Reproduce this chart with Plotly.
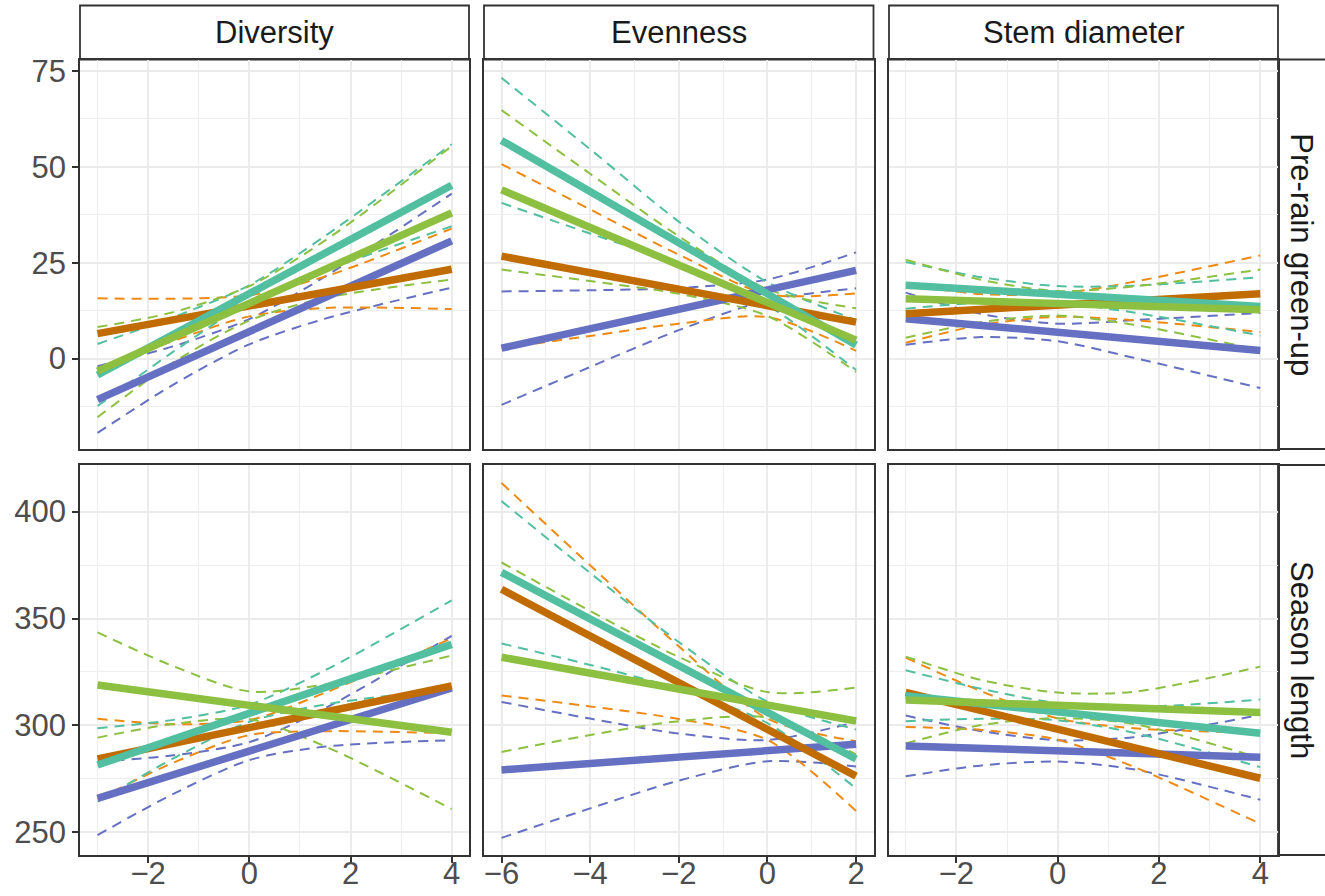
import plotly.graph_objects as go

W, H = 1325, 896

FACETS = ["Diversity", "Evenness", "Stem diameter"]
RESPONSES = ["Pre-rain green-up", "Season length"]
# group order (drawing order): blue, orange, teal, green
SOLID_COLORS = ["#6570C2", "#C06C00", "#52BFA1", "#8DC041"]
DASH_COLORS = ["#6570C2", "#EE8A14", "#52BFA1", "#8DC041"]

X_FIT_DIV = [-3, 4]
X_FIT_EVEN = [-6, 2]
X_FIT_STEM = [-3, 4]
X_BAND_DIV = [-3, -1.5, 0, 1.5, 4]
X_BAND_EVEN = [-6, -4, -2, 0, 2]
X_BAND_STEM = [-3, -1.5, 0, 1.5, 4]

X_TICKS_DIV = [-2, 0, 2, 4]
X_TICKS_EVEN = [-6, -4, -2, 0, 2]
X_TICKS_STEM = [-2, 0, 2, 4]
Y_TICKS_PRE = [0, 25, 50, 75]
Y_TICKS_SEASON = [250, 300, 350, 400]

# ---- Pre-rain green-up ----
PRE_DIV_FIT = [[-10.7, 30.7], [6.5, 23.3], [-4.3, 45.2], [-3.3, 38.0]]
PRE_DIV_HI = [[-2.0, 3.2, 10.3, 21.4, 43.0], [15.7, 15.6, 16.5, 21.4, 33.9],
              [3.8, 10.8, 19.1, 32.0, 55.9], [8.2, 12.1, 18.9, 30.8, 55.4]]
PRE_DIV_LO = [[-19.4, -6.8, 3.7, 10.4, 18.5], [-2.7, 4.6, 11.0, 13.2, 12.9],
              [-12.4, 1.8, 14.7, 23.0, 34.5], [-15.3, -1.0, 9.9, 15.8, 20.6]]

PRE_EVEN_FIT = [[2.7, 23.0], [26.7, 9.5], [56.9, 3.5], [44.0, 4.8]]
PRE_EVEN_HI = [[17.5, 17.8, 18.4, 20.6, 27.7], [50.7, 38.9, 27.1, 16.8, 17.0],
               [73.2, 54.6, 35.7, 19.9, 10.0], [64.8, 48.2, 31.9, 18.1, 13.1]]
PRE_EVEN_LO = [[-12.1, -2.2, 7.4, 15.2, 18.3], [2.7, 5.9, 9.1, 10.8, 2.0],
               [40.6, 32.6, 24.7, 13.9, -3.0], [23.2, 20.2, 16.9, 11.1, -3.5]]

PRE_STEM_FIT = [[10.4, 2.1], [11.7, 16.9], [19.1, 13.6], [15.6, 12.7]]
PRE_STEM_HI = [[17.2, 11.6, 9.1, 10.0, 11.9], [19.3, 16.8, 16.9, 20.0, 26.9],
               [25.2, 21.2, 18.9, 19.0, 21.2], [25.8, 20.5, 17.6, 18.8, 23.2]]
PRE_STEM_LO = [[3.6, 5.6, 4.5, 0.2, -7.7], [4.1, 8.8, 10.9, 10.0, 6.9],
               [13.0, 14.6, 14.5, 12.0, 6.0], [5.4, 9.5, 11.2, 8.8, 2.2]]

# ---- Season length ----
SEA_DIV_FIT = [[265.9, 317.5], [284.3, 318.5], [281.5, 337.9], [318.9, 296.8]]
SEA_DIV_HI = [[283.1, 286.0, 292.2, 308.1, 341.9], [303.1, 300.6, 302.5, 315.3, 340.7],
              [298.7, 302.6, 309.7, 325.8, 358.5], [343.5, 327.7, 315.9, 319.2, 332.7]]
SEA_DIV_LO = [[248.7, 268.0, 283.8, 290.1, 293.1], [265.5, 282.6, 295.5, 297.3, 296.3],
              [264.3, 284.6, 301.7, 309.8, 317.3], [294.3, 300.7, 302.9, 290.2, 260.9]]

SEA_EVEN_FIT = [[279.2, 291.2], [363.7, 276.3], [371.6, 284.3], [331.9, 302.1]]
SEA_EVEN_HI = [[311.0, 303.2, 296.2, 293.2, 301.6], [413.4, 374.9, 337.0, 303.2, 292.6],
               [404.9, 371.3, 339.0, 311.1, 298.1], [376.2, 353.5, 332.0, 315.6, 317.7]]
SEA_EVEN_LO = [[247.4, 261.2, 274.2, 283.2, 280.8], [314.0, 308.9, 303.0, 293.2, 260.0],
               [338.3, 328.3, 317.0, 301.1, 270.5], [287.6, 295.5, 302.0, 303.6, 286.5]]

SEA_STEM_FIT = [[290.4, 285.1], [315.5, 275.3], [313.9, 296.3], [311.9, 306.1]]
SEA_STEM_HI = [[304.6, 297.3, 293.1, 294.5, 305.0], [331.7, 315.9, 303.3, 298.7, 296.6],
               [325.8, 317.1, 310.4, 308.6, 312.1], [332.2, 321.2, 315.4, 315.7, 327.5]]
SEA_STEM_LO = [[276.2, 281.3, 283.1, 279.5, 265.2], [299.3, 297.9, 293.3, 280.7, 254.0],
               [302.0, 303.1, 302.4, 296.6, 280.5], [291.6, 300.2, 303.4, 300.7, 284.7]]

PANELS = [
    (0, 0, X_FIT_DIV, PRE_DIV_FIT, X_BAND_DIV, PRE_DIV_LO, PRE_DIV_HI),
    (0, 1, X_FIT_EVEN, PRE_EVEN_FIT, X_BAND_EVEN, PRE_EVEN_LO, PRE_EVEN_HI),
    (0, 2, X_FIT_STEM, PRE_STEM_FIT, X_BAND_STEM, PRE_STEM_LO, PRE_STEM_HI),
    (1, 0, X_FIT_DIV, SEA_DIV_FIT, X_BAND_DIV, SEA_DIV_LO, SEA_DIV_HI),
    (1, 1, X_FIT_EVEN, SEA_EVEN_FIT, X_BAND_EVEN, SEA_EVEN_LO, SEA_EVEN_HI),
    (1, 2, X_FIT_STEM, SEA_STEM_FIT, X_BAND_STEM, SEA_STEM_LO, SEA_STEM_HI),
]

# layout geometry (target pixels in the picture)
COL_PX = [(80, 469), (484, 873.5), (889, 1278)]
ROW_PX = [(59.5, 449), (465, 855)]
STRIP_TOP_PX = (5.5, 59.5)
STRIP_RIGHT_PX = (1278, 1350)

X_RANGES = [[-3.346, 4.342], [-6.395, 2.393], [-3.33, 4.35]]
Y_RANGES = [[-23.6, 78.0], [239.4, 421.8]]
X_TICKS = [X_TICKS_DIV, X_TICKS_EVEN, X_TICKS_STEM]
Y_TICKS = [Y_TICKS_PRE, Y_TICKS_SEASON]
Y_MINOR = [(12.5, 0), (25, 250)]


def px_x(p):
    return p / W


def px_y(p):
    return 1 - p / H


fig = go.Figure()
layout = dict(
    width=W, height=H, margin=dict(l=0, r=0, t=0, b=0, pad=0),
    paper_bgcolor="white", plot_bgcolor="white", showlegend=False,
    font=dict(family="Liberation Sans, Arial, sans-serif"),
)

AX_COMMON = dict(
    showline=True, mirror=True, linecolor="#333333", linewidth=1.8,
    zeroline=False, showgrid=True, gridcolor="#EBEBEB", gridwidth=1.6,
    tickcolor="#333333", tickwidth=1.6, ticklen=6,
    tickfont=dict(size=31, color="#4D4D4D", family="Liberation Sans, Arial, sans-serif"),
    fixedrange=True, automargin=False,
)

for (r, c, xfit, fits, xband, lo, hi) in PANELS:
    k = r * 3 + c + 1
    xa = "x" if k == 1 else f"x{k}"
    ya = "y" if k == 1 else f"y{k}"
    # dashed confidence bounds
    for g in range(4):
        for band in (lo[g], hi[g]):
            fig.add_trace(go.Scatter(
                x=xband, y=band, mode="lines", xaxis=xa, yaxis=ya,
                line=dict(color=DASH_COLORS[g], width=2.0, dash="10px,7px",
                          shape="spline", smoothing=0.8),
                hoverinfo="skip"))
    # fitted lines
    for g in range(4):
        fig.add_trace(go.Scatter(
            x=xfit, y=fits[g], mode="lines", xaxis=xa, yaxis=ya,
            line=dict(color=SOLID_COLORS[g], width=7.5),
            hoverinfo="skip"))

    x0, x1 = COL_PX[c]
    y0, y1 = ROW_PX[r]
    xkey = "xaxis" if k == 1 else f"xaxis{k}"
    ykey = "yaxis" if k == 1 else f"yaxis{k}"
    xd = dict(AX_COMMON)
    xd.update(domain=[px_x(x0), px_x(x1)], anchor=ya, range=X_RANGES[c],
              tickvals=X_TICKS[c],
              minor=dict(dtick=1, tick0=0, showgrid=True, gridcolor="#EEEEEE",
                         gridwidth=1.0, ticks=""))
    if r == 1:
        xd.update(ticks="outside", showticklabels=True, ticklabelstandoff=-16)
    else:
        xd.update(ticks="", showticklabels=False)
    yd = dict(AX_COMMON)
    mdt, m0 = Y_MINOR[r]
    yd.update(domain=[px_y(y1), px_y(y0)], anchor=xa, range=Y_RANGES[r],
              tickvals=Y_TICKS[r],
              minor=dict(dtick=mdt, tick0=m0, showgrid=True, gridcolor="#EEEEEE",
                         gridwidth=1.0, ticks=""))
    if c == 0:
        yd.update(ticks="outside", showticklabels=True)
    else:
        yd.update(ticks="", showticklabels=False)
    layout[xkey] = xd
    layout[ykey] = yd

shapes = []
annotations = []
# top strips
for c, name in enumerate(FACETS):
    x0, x1 = COL_PX[c]
    shapes.append(dict(type="rect", xref="paper", yref="paper",
                       x0=px_x(x0), x1=px_x(x1),
                       y0=px_y(STRIP_TOP_PX[1]), y1=px_y(STRIP_TOP_PX[0]),
                       line=dict(color="#333333", width=1.8), fillcolor="white",
                       layer="below"))
    annotations.append(dict(xref="paper", yref="paper",
                            x=px_x((x0 + x1) / 2),
                            y=px_y((STRIP_TOP_PX[0] + STRIP_TOP_PX[1]) / 2),
                            text=name, showarrow=False,
                            font=dict(size=31, color="#1A1A1A"),
                            xanchor="center", yanchor="middle"))
# right strips
for r, name in enumerate(RESPONSES):
    y0, y1 = ROW_PX[r]
    shapes.append(dict(type="rect", xref="paper", yref="paper",
                       x0=px_x(STRIP_RIGHT_PX[0]), x1=px_x(STRIP_RIGHT_PX[1]),
                       y0=px_y(y1), y1=px_y(y0),
                       line=dict(color="#333333", width=1.8), fillcolor="white",
                       layer="below"))
    annotations.append(dict(xref="paper", yref="paper",
                            x=px_x(1302), y=px_y((y0 + y1) / 2),
                            text=name, showarrow=False, textangle=90,
                            font=dict(size=31, color="#1A1A1A"),
                            xanchor="center", yanchor="middle"))

layout["shapes"] = shapes
layout["annotations"] = annotations
fig.update_layout(**layout)
fig.write_html("out.html")
